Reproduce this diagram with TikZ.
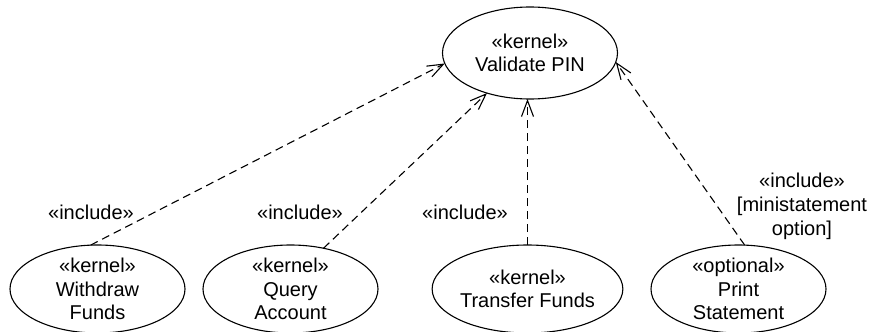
\documentclass[tikz,border=0pt]{standalone}
\usepackage{fontspec}
\setmainfont{Liberation Sans}
\usetikzlibrary{shapes.geometric,arrows.meta}
\tikzset{
  usecase/.style={ellipse, draw, line width=1.1pt, minimum width=175pt,
    minimum height=88pt, inner sep=0pt, outer sep=0pt, align=center,
    font=\fontsize{20}{23.5}\selectfont},
  incl/.style={draw, line width=1.1pt, dash pattern=on 8pt off 5pt,
    -{Straight Barb[length=16pt,width=12pt,line width=1.1pt]}},
  lbl/.style={align=center, inner sep=0pt, font=\fontsize{20}{24}\selectfont}
}
\begin{document}
\begin{tikzpicture}[x=1pt,y=-1pt]
  \path[use as bounding box, clip] (0,0) rectangle (871,332);

  % use cases
  \node[usecase, minimum height=92pt] (v) at (530,53) {«kernel»\\Validate PIN};
  \node[usecase] (w) at (97.5,289) {«kernel»\\Withdraw\\Funds};
  \node[usecase] (q) at (290.5,289) {«kernel»\\Query\\Account};
  \node[usecase] (t) at (527.5,289) {«kernel»\\Transfer Funds};
  \node[usecase] (p) at (738.5,289) {«optional»\\Print\\Statement};

  % include dependencies
  \draw[incl] (w.99) -- (v.187);
  \draw[incl] (q.51) -- (v.223);
  \draw[incl] (t.north) -- (t.north |- v.south);
  \draw[incl] (p.82) -- (v.354);

  % stereotype labels
  \node[lbl] (l1) at (91,212) {«include»};
  \node[lbl] (l2) at (300,212) {«include»};
  \node[lbl] (l3) at (465,212) {«include»};
  \node[lbl] (l4) at (802,206) {«include»\\{[}ministatement\\option]};
\end{tikzpicture}
\end{document}
